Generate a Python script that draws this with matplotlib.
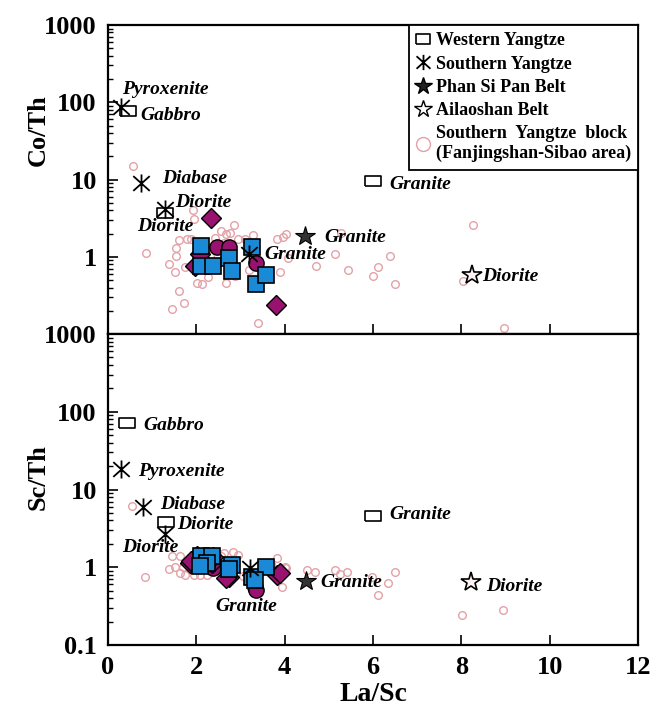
import matplotlib
matplotlib.use('Agg')
import matplotlib.pyplot as plt
from matplotlib.lines import Line2D
from matplotlib.path import Path

plt.rcParams['font.family'] = 'Liberation Serif'
plt.rcParams['font.weight'] = 'bold'

# ---- reference samples, Co/Th vs La/Sc (top panel) ----
west_top_x = [0.46, 1.29, 6.01]
west_top_y = [77, 3.7, 9.7]
south_top_x = [0.30, 0.74, 1.29, 3.20]
south_top_y = [88, 9.1, 4.2, 1.08]
phan_top_x = [4.46]
phan_top_y = [1.85]
ailao_top_x = [8.24]
ailao_top_y = [0.58]

# ---- reference samples, Sc/Th vs La/Sc (bottom panel) ----
west_bot_x = [0.44, 1.32, 5.99]
west_bot_y = [71, 3.8, 4.5]
south_bot_x = [0.30, 0.79, 1.29, 3.21]
south_bot_y = [18.1, 6.0, 2.7, 0.97]
phan_bot_x = [4.48]
phan_bot_y = [0.66]
ailao_bot_x = [8.22]
ailao_bot_y = [0.64]

# Southern Yangtze block (Fanjingshan-Sibao area)
fj_top_x = [0.56, 0.85, 1.39, 1.44, 1.52, 1.55, 1.61, 1.55, 1.61, 1.72, 1.74, 1.79, 1.87,
            1.93, 1.95, 2.01, 2.12, 2.20, 2.27, 2.42, 2.57, 2.67, 2.77, 2.86, 2.88, 2.67,
            2.95, 3.10, 3.29, 3.20, 3.40, 3.82, 3.89, 3.97, 4.04, 4.08, 4.71, 5.14, 5.27,
            5.44, 5.99, 6.12, 6.38, 6.49, 8.27, 8.04, 8.97, 2.62, 2.73, 2.31]
fj_top_y = [14.9, 1.13, 0.80, 0.21, 0.64, 1.03, 0.36, 1.31, 1.65, 0.25, 0.73, 1.68, 1.72,
            4.0, 3.1, 0.46, 0.45, 1.38, 0.54, 1.77, 2.15, 1.95, 2.05, 2.57, 0.56, 0.46,
            1.72, 1.68, 1.89, 0.68, 0.14, 1.68, 0.64, 1.80, 1.95, 0.95, 0.76, 1.08, 2.05,
            0.67, 0.56, 0.73, 1.03, 0.45, 2.57, 0.49, 0.12, 1.52, 0.69, 1.03]
fj_bot_x = [0.54, 0.84, 1.44, 1.63, 1.39, 1.52, 1.63, 1.74, 1.78, 1.95, 2.09, 2.24, 2.57,
            2.62, 2.84, 2.95, 3.05, 3.82, 4.01, 4.04, 3.95, 4.50, 4.69, 5.14, 5.25, 5.42,
            5.97, 6.12, 6.34, 6.49, 8.02, 8.94, 1.70, 1.85, 2.55, 3.70]
fj_bot_y = [6.1, 0.76, 1.41, 1.38, 0.95, 1.0, 0.84, 0.80, 1.13, 0.80, 0.80, 0.80, 1.38,
            1.52, 1.55, 1.45, 0.78, 1.31, 1.0, 0.97, 0.55, 0.91, 0.86, 0.93, 0.82, 0.87,
            0.75, 0.44, 0.63, 0.86, 0.24, 0.28, 1.0, 0.95, 1.18, 1.10]

# this study: blue squares, purple diamonds, purple circles
sq_top_x = [2.10, 2.10, 2.38, 2.75, 2.80, 3.27, 3.35, 3.58]
sq_top_y = [1.38, 0.75, 0.75, 0.95, 0.66, 1.32, 0.45, 0.58]
dia_top_x = [2.33, 3.80, 1.97, 2.08]
dia_top_y = [3.2, 0.24, 0.76, 1.08]
cir_top_x = [2.46, 2.73, 3.36]
cir_top_y = [1.32, 1.32, 0.84]

sq_bot_x = [2.10, 2.35, 2.24, 2.80, 2.75, 3.27, 3.57, 3.32, 2.09]
sq_bot_y = [1.40, 1.40, 1.15, 1.08, 0.95, 0.76, 1.02, 0.69, 1.03]
dia_bot_x = [1.85, 2.35, 2.73, 3.82, 2.02, 2.38, 1.89, 2.68, 3.89]
dia_bot_y = [1.13, 1.13, 0.76, 0.80, 1.40, 1.35, 1.19, 0.73, 0.84]
cir_bot_x = [3.32, 3.36, 2.38]
cir_bot_y = [0.56, 0.51, 0.97]

# rock-type annotations (x, y, text)
labels_top = [(0.31, 145, 'Pyroxenite'), (0.73, 67, 'Gabbro'), (1.22, 10.3, 'Diabase'),
              (1.52, 5.05, 'Diorite'), (0.66, 2.48, 'Diorite'), (3.54, 1.08, 'Granite'),
              (4.89, 1.79, 'Granite'), (6.38, 8.6, 'Granite'), (8.46, 0.56, 'Diorite')]
labels_bot = [(0.80, 66, 'Gabbro'), (0.67, 17.2, 'Pyroxenite'), (1.17, 6.5, 'Diabase'),
              (1.57, 3.5, 'Diorite'), (0.31, 1.77, 'Diorite'), (2.42, 0.31, 'Granite'),
              (4.80, 0.63, 'Granite'), (6.37, 4.75, 'Granite'), (8.56, 0.56, 'Diorite')]

blue = '#1a8ad6'
purple = '#9a1270'
pink = '#e3a1a8'
rect = [(-1.4, -1), (1.4, -1), (1.4, 1), (-1.4, 1), (-1.4, -1)]
# X with a vertical bar through it
aster = Path([(-1, -0.9), (1, 0.9), (-1, 0.9), (1, -0.9), (0, -1.1), (0, 1.1)],
             [Path.MOVETO, Path.LINETO, Path.MOVETO, Path.LINETO, Path.MOVETO, Path.LINETO])

fig = plt.figure(figsize=(6.58, 7.08), dpi=100)
ax1 = fig.add_axes([0.1641, 0.5282, 0.8055, 0.4365])
ax2 = fig.add_axes([0.1641, 0.0890, 0.8055, 0.4392])


def draw(ax, fx, fy, cx, cy, dx, dy, sx, sy, wx, wy, ax_, ay_, px, py, lx, ly, labels):
    ax.plot(fx, fy, 'o', ms=5.5, mfc='none', mec=pink, mew=1.0, zorder=2)
    ax.plot(cx, cy, 'o', ms=11, mfc=purple, mec='black', mew=1.0, zorder=3)
    ax.plot(dx, dy, 'D', ms=10.5, mfc=purple, mec='black', mew=1.0, zorder=3)
    ax.plot(sx, sy, 's', ms=11, mfc=blue, mec='black', mew=1.2, zorder=4)
    ax.plot(wx, wy, marker=rect, ls='none', ms=11, mfc='white', mec='black', mew=1.2, zorder=5)
    ax.plot(ax_, ay_, marker=aster, ls='none', ms=13, mfc='none', mec='black', mew=1.3, zorder=6)
    ax.plot(px, py, '*', ms=15, mfc='#333333', mec='black', mew=0.8, zorder=6)
    ax.plot(lx, ly, '*', ms=15, mfc='#fdf3f3', mec='black', mew=1.2, zorder=6)
    for x, y, t in labels:
        ax.text(x, y, t, fontsize=14, style='italic', fontweight='bold',
                ha='left', va='center', zorder=7)
    ax.set_yscale('log')
    ax.set_xlim(0, 12)
    ax.set_ylim(0.1, 1000)
    ax.set_xticks([0, 2, 4, 6, 8, 10, 12])
    ax.tick_params(axis='both', which='major', direction='in', length=7, width=1.2,
                   labelsize=19, pad=8)
    ax.tick_params(axis='both', which='minor', direction='in', length=3.5, width=1.0)
    ax.tick_params(axis='x', which='minor', bottom=False)
    for s in ax.spines.values():
        s.set_linewidth(1.6)


draw(ax1, fj_top_x, fj_top_y, cir_top_x, cir_top_y, dia_top_x, dia_top_y, sq_top_x, sq_top_y,
     west_top_x, west_top_y, south_top_x, south_top_y, phan_top_x, phan_top_y,
     ailao_top_x, ailao_top_y, labels_top)
draw(ax2, fj_bot_x, fj_bot_y, cir_bot_x, cir_bot_y, dia_bot_x, dia_bot_y, sq_bot_x, sq_bot_y,
     west_bot_x, west_bot_y, south_bot_x, south_bot_y, phan_bot_x, phan_bot_y,
     ailao_bot_x, ailao_bot_y, labels_bot)

ax1.set_yticks([1, 10, 100, 1000])
ax1.set_yticklabels(['1', '10', '100', '1000'])
ax1.tick_params(axis='x', labelbottom=False)
ax2.set_yticks([0.1, 1, 10, 100, 1000])
ax2.set_yticklabels(['0.1', '1', '10', '100', '1000'])

ax1.set_ylabel('Co/Th', fontsize=19, fontweight='bold')
ax1.yaxis.set_label_coords(-0.11, 0.66)
ax2.set_ylabel('Sc/Th', fontsize=19, fontweight='bold')
ax2.yaxis.set_label_coords(-0.11, 0.54)
ax2.set_xlabel('La/Sc', fontsize=20, fontweight='bold', labelpad=2)

handles = [
    Line2D([], [], marker=rect, ls='none', ms=10, mfc='white', mec='black', mew=1.2),
    Line2D([], [], marker=aster, ls='none', ms=11, mfc='none', mec='black', mew=1.3),
    Line2D([], [], marker='*', ls='none', ms=13, mfc='#222222', mec='black'),
    Line2D([], [], marker='*', ls='none', ms=13, mfc='white', mec='black', mew=1.0),
    Line2D([], [], marker='o', ls='none', ms=10, mfc='none', mec=pink, mew=1.0),
]
names = ['Western Yangtze', 'Southern Yangtze', 'Phan Si Pan Belt', 'Ailaoshan Belt',
         'Southern  Yangtze  block\n(Fanjingshan-Sibao area)']
leg = ax1.legend(handles, names, loc='upper right', borderaxespad=0, fancybox=False,
                 edgecolor='black', framealpha=1, handlelength=0.8, handletextpad=0.3,
                 labelspacing=0.35, borderpad=0.4, prop={'size': 13, 'weight': 'bold'})
leg.get_frame().set_linewidth(1.3)
leg.set_zorder(10)

fig.savefig('out.png', dpi=100)
